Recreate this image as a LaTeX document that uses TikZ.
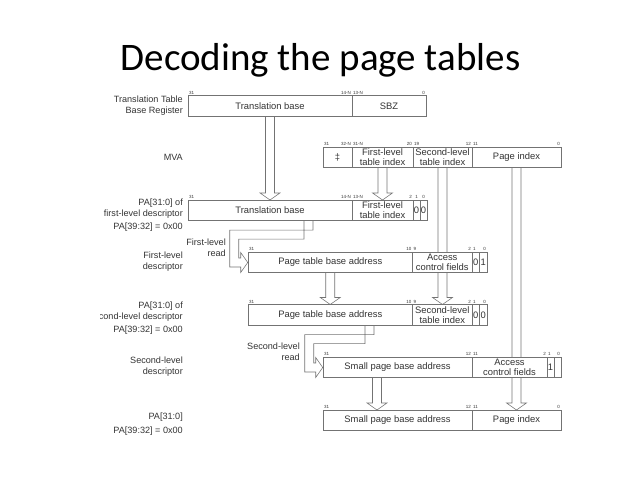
\documentclass[tikz,border=0pt]{standalone}
\usepackage{fontspec}
\setmainfont{Liberation Sans}
\newfontfamily\titlefont{Carlito}
\usetikzlibrary{calc}
\pgfdeclarelayer{bg}
\pgfsetlayers{bg,main}
\definecolor{lc}{gray}{0.45}
\definecolor{tc}{gray}{0.2}
\tikzset{
 field/.style={draw=lc, line width=0.55pt, fill=white, minimum height=20.5pt, inner sep=0pt, align=center, font=\fontsize{9.4}{10}\selectfont, text=tc},
 bit/.style={inner sep=0pt, font=\fontsize{4.5}{5}\selectfont, text=tc},
 lbl/.style={inner sep=0pt, align=right, anchor=east, font=\fontsize{9.1}{11}\selectfont, text=tc},
 pipe/.style={draw=lc, line width=0.55pt},
}
\newcommand\vpipe[2]{\draw[pipe] let \p1=(#1), \p2=(#2) in (\x1-4.5pt,\y1) -- (\x1-4.5pt,\y2+7pt) -- (\x1-10pt,\y2+7pt) -- (\x1,\y2) -- (\x1+10pt,\y2+7pt) -- (\x1+4.5pt,\y2+7pt) -- (\x1+4.5pt,\y1);}
\newcommand\rpipe[2]{\draw[pipe] let \p1=(#1), \p2=(#2) in (\x1+4.5pt,\y1) -- (\x1+4.5pt,\y1-9pt) -- (\x2-18pt,\y1-9pt) -- (\x2-18pt,\y2-4.5pt) -- (\x2-7pt,\y2-4.5pt) -- (\x2-7pt,\y2-10pt) -- (\x2,\y2) -- (\x2-7pt,\y2+10pt) -- (\x2-7pt,\y2+4.5pt) -- (\x2-9pt,\y2+4.5pt) -- (\x2-9pt,\y1-18pt) -- (\x1-4.5pt,\y1-18pt) -- (\x1-4.5pt,\y1);}
\begin{document}
\begin{tikzpicture}[x=1pt,y=-1pt]
\useasboundingbox (0,0) rectangle (638,479);
\node[font=\titlefont\fontsize{39}{40}\selectfont, anchor=base, inner sep=0pt] (title) at (320.5,70) {Decoding the page tables};
\begin{scope}
\clip (100,80) rectangle (638,479);
% Row 1
\node[field, minimum width=164pt] (tb1) at (270,106) {Translation base};
\node[field, minimum width=74pt] (sbz) at (389,106) {SBZ};
% MVA
\node[field, minimum width=29pt] (mx) at (337.5,157.5) {‡};
\node[field, minimum width=61pt] (mfl) at (382.5,157.5) {First-level\\table index};
\node[field, minimum width=59pt] (msl) at (442.5,157.5) {Second-level\\table index};
\node[field, minimum width=89pt] (mpi) at (516.5,157.5) {Page index};
% Row 3
\node[field, minimum width=164pt] (tb3) at (270,210.5) {Translation base};
\node[field, minimum width=61pt] (fl3) at (382.5,210.5) {First-level\\table index};
\node[field, minimum width=7pt] (z3a) at (416.5,210.5) {0};
\node[field, minimum width=7pt] (z3b) at (423.5,210.5) {0};
% Row 4
\node[field, minimum width=164.5pt] (pt4) at (330.25,262.5) {Page table base address};
\node[field, minimum width=59.5pt] (ac4) at (442.25,262.5) {Access\\control fields};
\node[field, minimum width=7.5pt] (z4) at (475.75,262.5) {0};
\node[field, minimum width=7.5pt] (o4) at (483.25,262.5) {1};
% Row 5
\node[field, minimum width=164.5pt] (pt5) at (330.25,315) {Page table base address};
\node[field, minimum width=59.5pt] (sl5) at (442.25,315) {Second-level\\table index};
\node[field, minimum width=7.5pt] (z5a) at (475.75,315) {0};
\node[field, minimum width=7.5pt] (z5b) at (483.25,315) {0};
% Row 6
\node[field, minimum width=149pt] (sp6) at (397.5,367.5) {Small page base address};
\node[field, minimum width=75pt] (ac6) at (509.5,367.5) {Access\\control fields};
\node[field, minimum width=7pt] (o6) at (550.5,367.5) {1};
\node[field, minimum width=7pt] (e6) at (557.5,367.5) {};
% Row 7
\node[field, minimum width=149pt] (sp7) at (397.5,420.5) {Small page base address};
\node[field, minimum width=89pt] (pi7) at (516.5,420.5) {Page index};
% bit numbers
\node[bit, anchor=south west] (r1a) at (189,94.5) {31};
\node[bit, anchor=south east] (r1b) at (351,94.5) {14-N};
\node[bit, anchor=south west] (r1c) at (353,94.5) {13-N};
\node[bit, anchor=south east] (r1d) at (425,94.5) {0};
\node[bit, anchor=south west] (m1) at (324,146) {31};
\node[bit, anchor=south east] (m2) at (351,146) {32-N};
\node[bit, anchor=south west] (m3) at (353,146) {31-N};
\node[bit, anchor=south east] (m4) at (412,146) {20};
\node[bit, anchor=south west] (m5) at (414,146) {19};
\node[bit, anchor=south east] (m6) at (471,146) {12};
\node[bit, anchor=south west] (m7) at (473,146) {11};
\node[bit, anchor=south east] (m8) at (560,146) {0};
\node[bit, anchor=south west] (r3a) at (189,199) {31};
\node[bit, anchor=south east] (r3b) at (351,199) {14-N};
\node[bit, anchor=south west] (r3c) at (353,199) {13-N};
\node[bit, anchor=south east] (r3d) at (412,199) {2};
\node[bit, anchor=south] (r3e) at (416.5,199) {1};
\node[bit, anchor=south] (r3f) at (423.5,199) {0};
\node[bit, anchor=south west] (r4a) at (249,251) {31};
\node[bit, anchor=south east] (r4b) at (411.5,251) {10};
\node[bit, anchor=south west] (r4c) at (413.5,251) {9};
\node[bit, anchor=south east] (r4d) at (471,251) {2};
\node[bit, anchor=south west] (r4e) at (473,251) {1};
\node[bit, anchor=south east] (r4f) at (486,251) {0};
\node[bit, anchor=south west] (r5a) at (249,303.5) {31};
\node[bit, anchor=south east] (r5b) at (411.5,303.5) {10};
\node[bit, anchor=south west] (r5c) at (413.5,303.5) {9};
\node[bit, anchor=south east] (r5d) at (471,303.5) {2};
\node[bit, anchor=south west] (r5e) at (473,303.5) {1};
\node[bit, anchor=south east] (r5f) at (486,303.5) {0};
\node[bit, anchor=south west] (r6a) at (324,356) {31};
\node[bit, anchor=south east] (r6b) at (471,356) {12};
\node[bit, anchor=south west] (r6c) at (473,356) {11};
\node[bit, anchor=south east] (r6d) at (546,356) {2};
\node[bit, anchor=south west] (r6e) at (548,356) {1};
\node[bit, anchor=south east] (r6f) at (560,356) {0};
\node[bit, anchor=south west] (r7a) at (324,409) {31};
\node[bit, anchor=south east] (r7b) at (471,409) {12};
\node[bit, anchor=south west] (r7c) at (473,409) {11};
\node[bit, anchor=south east] (r7d) at (560,409) {0};
% left labels
\node[lbl] (l1) at (183,106) {Translation Table\\Base Register};
\node[lbl] (l2) at (183,157.5) {MVA};
\node[lbl] (l3) at (183,209) {PA[31:0] of\\first-level descriptor};
\node[lbl] (l3b) at (183,227.5) {PA[39:32] = 0x00};
\node[lbl] (l4r) at (226,248) {First-level\\read};
\node[lbl] (l4) at (183,262) {First-level\\descriptor};
\node[lbl] (l5) at (183,312) {PA[31:0] of\\second-level descriptor};
\node[lbl] (l5b) at (183,330.5) {PA[39:32] = 0x00};
\node[lbl] (l6r) at (300,352) {Second-level\\read};
\node[lbl] (l6) at (183,367) {Second-level\\descriptor};
\node[lbl] (l7) at (183,417) {PA[31:0]};
\node[lbl] (l7b) at (183,431) {PA[39:32] = 0x00};
\end{scope}
% connectors (behind boxes)
\begin{pgfonlayer}{bg}
\vpipe{tb1.south}{tb3.north}
\vpipe{mfl.south}{fl3.north}
\vpipe{msl.south}{sl5.north}
\vpipe{mpi.south}{pi7.north}
\vpipe{pt4.south}{pt5.north}
\vpipe{[xshift=-20.5pt]sp6.south}{sp7.north}
\rpipe{[xshift=38.5pt]tb3.south}{pt4.west}
\rpipe{[xshift=39.25pt]pt5.south}{sp6.west}
\end{pgfonlayer}
\end{tikzpicture}
\end{document}
